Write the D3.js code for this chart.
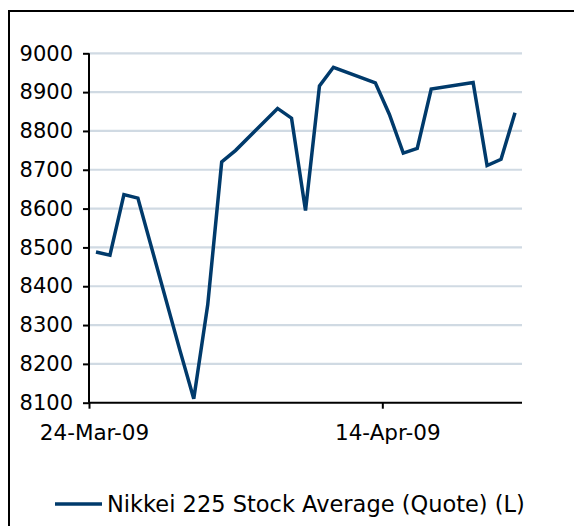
<!DOCTYPE html>
<html>
<head>
<meta charset="utf-8">
<script src="https://cdn.jsdelivr.net/npm/d3@7"></script>
<style>
  body { margin: 0; background: #fff; }
  svg { display: block; }
  svg text { font-family: "DejaVu Sans", Verdana, sans-serif; fill: #000; }
</style>
</head>
<body>
<svg id="chart" width="574" height="526"></svg>
<script>
// trading days shown (Nikkei close)
var dates = ["2009-03-24","2009-03-25","2009-03-26","2009-03-27","2009-03-30","2009-03-31",
             "2009-04-01","2009-04-02","2009-04-03","2009-04-06","2009-04-07","2009-04-08",
             "2009-04-09","2009-04-10","2009-04-13","2009-04-14","2009-04-15","2009-04-16",
             "2009-04-17","2009-04-20","2009-04-21","2009-04-22","2009-04-23"];
var values = [8488, 8480, 8636, 8627, 8236, 8110,
              8352, 8720, 8750, 8858, 8833, 8595,
              8916, 8964, 8924, 8843, 8743, 8755,
              8908, 8925, 8711, 8727, 8847];
var yTicks = [8100, 8200, 8300, 8400, 8500, 8600, 8700, 8800, 8900, 9000];
var xTicks = ["2009-03-24", "2009-04-14"];
var seriesName = "Nikkei 225 Stock Average (Quote) (L)";

var parse = d3.utcParse("%Y-%m-%d");
var fmt = d3.utcFormat("%-d-%b-%y");
var halfDay = 12 * 3600 * 1000;

var svg = d3.select("#chart");
var plotL = 89, plotR = 522, plotT = 53.3, plotB = 402.7;

// outer frame
svg.append("rect")
    .attr("x", 9).attr("y", 11)
    .attr("width", 600).attr("height", 600)
    .attr("fill", "none").attr("stroke", "#000").attr("stroke-width", 2);

var x = d3.scaleUtc()
    .domain([parse("2009-03-24"), parse("2009-04-24")])
    .range([plotL, plotR]);
var y = d3.scaleLinear()
    .domain([8100, 9000])
    .range([plotB, plotT]);

// gridlines
svg.append("g").selectAll("line")
    .data(yTicks.filter(function(d) { return d > 8100; }))
    .enter().append("line")
    .attr("x1", plotL).attr("x2", plotR)
    .attr("y1", function(d) { return y(d); })
    .attr("y2", function(d) { return y(d); })
    .attr("stroke", "#d0dae3").attr("stroke-width", 2.2);

// y axis
var yAxis = svg.append("g")
    .attr("transform", "translate(" + plotL + ",0)")
    .call(d3.axisLeft(y).tickValues(yTicks).tickSize(6).tickPadding(10).tickFormat(d3.format("d")));
yAxis.attr("font-family", null).attr("font-size", 21);
yAxis.select(".domain").attr("stroke", "#000").attr("stroke-width", 2).attr("d", "M0," + plotT + "V" + plotB);
yAxis.selectAll(".tick line").attr("stroke", "#000").attr("stroke-width", 2);

// x axis
var xAxis = svg.append("g")
    .attr("transform", "translate(0," + plotB + ")")
    .call(d3.axisBottom(x).tickValues(xTicks.map(parse)).tickSize(6).tickPadding(16).tickFormat(fmt));
xAxis.attr("font-family", null).attr("font-size", 21.5);
xAxis.select(".domain").attr("stroke", "#000").attr("stroke-width", 2).attr("d", "M" + plotL + ",0H" + plotR);
xAxis.selectAll(".tick line").attr("stroke", "#000").attr("stroke-width", 2);
xAxis.selectAll("text")
    .attr("x", function(d) { return x(new Date(+d + halfDay)) - x(d) - 2; });

// series line
var line = d3.line()
    .x(function(d, i) { return x(new Date(+parse(dates[i]) + halfDay)); })
    .y(function(d) { return y(d); });
svg.append("path")
    .datum(values)
    .attr("d", line)
    .attr("fill", "none")
    .attr("stroke", "#003a6b")
    .attr("stroke-width", 3.5)
    .attr("stroke-linejoin", "miter");

// legend
var legend = svg.append("g").attr("transform", "translate(55,504)");
legend.append("line")
    .attr("x1", 0).attr("x2", 47)
    .attr("stroke", "#003a6b").attr("stroke-width", 3.5);
legend.append("text")
    .attr("x", 52).attr("dy", "0.35em")
    .attr("font-size", 22.5)
    .text(seriesName);
</script>
</body>
</html>
